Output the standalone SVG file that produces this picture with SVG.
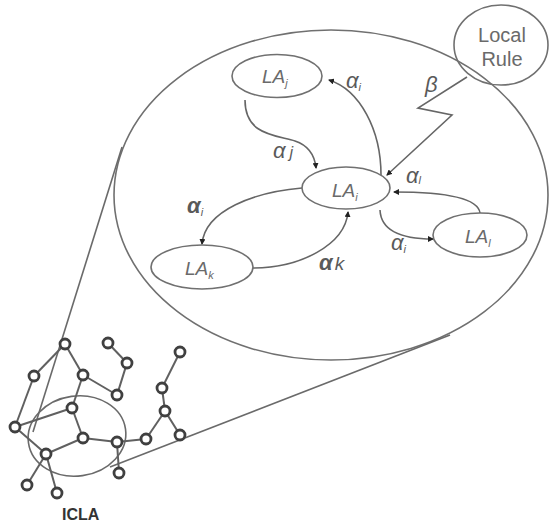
<svg xmlns="http://www.w3.org/2000/svg" width="549" height="526" viewBox="0 0 549 526">
<style>
.big{fill:none;stroke:#707070;stroke-width:1.6}
.node ellipse{fill:#fff;stroke:#707070;stroke-width:1.6}
#local-rule ellipse{fill:none}
.la{font-family:"Liberation Sans",Arial,sans-serif;font-style:italic;font-size:19px;fill:#6a6a6a}
.sub{font-size:11px}
.lbl{font-family:"Liberation Sans",Arial,sans-serif;font-style:italic;font-size:22px;fill:#5a5a5a}
.rule{font-family:"Liberation Sans",Arial,sans-serif;font-size:20px;fill:#6a6a6a}
.conn path{fill:none;stroke:#666;stroke-width:1.6}
.net line{stroke:#606060;stroke-width:2}
.net circle{fill:#fff;stroke:#404040;stroke-width:2.8}
.tan{stroke:#6a6a6a;stroke-width:1.6;fill:none}
</style>
<defs>
<marker id="ah" viewBox="0 0 6 6" refX="5" refY="3" markerWidth="6" markerHeight="6" markerUnits="userSpaceOnUse" orient="auto">
<path d="M0,0 L6,3 L0,6 z" fill="#222"/>
</marker>
</defs>
<rect width="549" height="526" fill="#fff"/>

<!-- zoom ellipse and tangents -->
<g id="zoom">
<ellipse class="big" cx="331" cy="195" rx="217" ry="165"/>
<line class="tan" x1="122" y1="147" x2="33" y2="432"/>
<line class="tan" x1="450" y1="335" x2="110" y2="467"/>
<ellipse class="tan" cx="77" cy="436" rx="49" ry="40" transform="rotate(-8 77 436)"/>
</g>

<!-- network -->
<g id="network" class="net">
<line x1="65" y1="344" x2="34" y2="376"/>
<line x1="34" y1="376" x2="15" y2="427"/>
<line x1="65" y1="344" x2="83" y2="375"/>
<line x1="83" y1="375" x2="117" y2="395"/>
<line x1="83" y1="375" x2="72" y2="408"/>
<line x1="108" y1="343" x2="127" y2="363"/>
<line x1="127" y1="363" x2="117" y2="395"/>
<line x1="180" y1="352" x2="162" y2="388"/>
<line x1="162" y1="388" x2="165" y2="411"/>
<line x1="165" y1="411" x2="180" y2="435"/>
<line x1="165" y1="411" x2="146" y2="439"/>
<line x1="146" y1="439" x2="117" y2="442"/>
<line x1="117" y1="442" x2="83" y2="438"/>
<line x1="117" y1="442" x2="119" y2="473"/>
<line x1="83" y1="438" x2="72" y2="408"/>
<line x1="83" y1="438" x2="46" y2="454"/>
<line x1="15" y1="427" x2="72" y2="408"/>
<line x1="15" y1="427" x2="46" y2="454"/>
<line x1="46" y1="454" x2="27" y2="485"/>
<line x1="46" y1="454" x2="57" y2="493"/>
<circle cx="65" cy="344" r="5"/>
<circle cx="108" cy="343" r="5"/>
<circle cx="127" cy="363" r="5"/>
<circle cx="34" cy="376" r="5"/>
<circle cx="83" cy="375" r="5"/>
<circle cx="117" cy="395" r="5"/>
<circle cx="180" cy="352" r="5"/>
<circle cx="162" cy="388" r="5"/>
<circle cx="165" cy="411" r="5"/>
<circle cx="180" cy="435" r="5"/>
<circle cx="72" cy="408" r="5"/>
<circle cx="15" cy="427" r="5"/>
<circle cx="83" cy="438" r="5"/>
<circle cx="117" cy="442" r="5"/>
<circle cx="146" cy="439" r="5"/>
<circle cx="46" cy="454" r="5"/>
<circle cx="119" cy="473" r="5"/>
<circle cx="27" cy="485" r="5"/>
<circle cx="57" cy="493" r="5"/>
</g>
<text x="62" y="520" font-family="Liberation Sans,Arial,sans-serif" font-weight="bold" font-size="16" fill="#333">ICLA</text>

<!-- connectors -->
<g id="connectors" class="conn">
<path d="M381,175 C381,130 360,90 329,80" marker-end="url(#ah)"/>
<path d="M245,100 C245,135 275,135 295,141 C310,146 315,158 316,168" marker-end="url(#ah)"/>
<path d="M302,188 C255,192 205,210 202,244" marker-end="url(#ah)"/>
<path d="M253,268 C300,268 345,245 348,212" marker-end="url(#ah)"/>
<path d="M480,213 C478,197 440,192 394,192" marker-end="url(#ah)"/>
<path d="M380,210 C381,232 405,239 433,239" marker-end="url(#ah)"/>
<path d="M467,77 L418,108 L452,115 L387,175" marker-end="url(#ah)"/>
</g>

<!-- connector labels -->
<g id="labels">
<text class="lbl" x="346" y="88">α<tspan class="sub" font-size="13" dy="3">i</tspan></text>
<text class="lbl" x="273" y="158">α<tspan dx="4" font-size="16">j</tspan></text>
<text class="lbl" x="187" y="213" font-weight="bold">α<tspan class="sub" font-size="13" dy="3" font-weight="normal">i</tspan></text>
<text class="lbl" x="319" y="270" font-weight="bold">α<tspan dx="2" font-size="19" font-weight="normal">k</tspan></text>
<text class="lbl" x="406" y="183">α<tspan class="sub" dy="1" font-size="14">l</tspan></text>
<text class="lbl" x="391" y="250">α<tspan class="sub" font-size="13" dy="3">i</tspan></text>
<text class="lbl" x="425" y="92" font-size="17">β</text>
</g>

<!-- nodes -->
<g id="local-rule" class="node">
<ellipse cx="501" cy="45" rx="47" ry="40"/>
<text class="rule" x="502" y="42" text-anchor="middle">Local</text>
<text class="rule" x="502" y="66" text-anchor="middle">Rule</text>
</g>
<g id="LAj" class="node">
<ellipse cx="277" cy="76" rx="45" ry="21.5"/>
<text class="la" x="262" y="83">LA<tspan class="sub" dy="4">j</tspan></text>
</g>
<g id="LAi" class="node">
<ellipse cx="346" cy="188" rx="44" ry="21"/>
<text class="la" x="332" y="197">LA<tspan class="sub" dy="4">i</tspan></text>
</g>
<g id="LAl" class="node">
<ellipse cx="480" cy="235" rx="47" ry="22"/>
<text class="la" x="465" y="243">LA<tspan class="sub" dy="4">l</tspan></text>
</g>
<g id="LAk" class="node">
<ellipse cx="202" cy="267" rx="51" ry="22"/>
<text class="la" x="185" y="275">LA<tspan class="sub" dy="4">k</tspan></text>
</g>
</svg>
